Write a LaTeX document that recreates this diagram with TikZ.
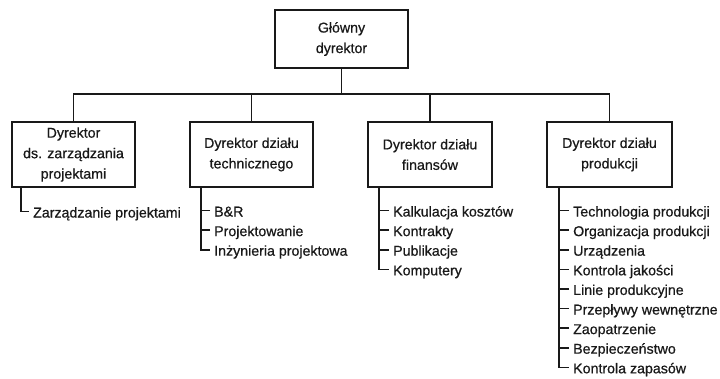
\documentclass[tikz,border=0pt]{standalone}
\usepackage{fontspec}
\setmainfont{Liberation Sans}[FakeBold=0.6]
\begin{document}
\begin{tikzpicture}[x=1pt,y=-1pt,
  box/.style={draw=black!90, line width=1.8pt, fill=white, align=center,
    text=black!90, font=\fontsize{14.2}{20.5}\selectfont, inner sep=0pt},
  item/.style={anchor=west, inner xsep=4pt, inner ysep=0pt, text height=12pt, text depth=0pt,
    text=black!90, font=\fontsize{14.2}{17}\selectfont},
  conn/.style={draw=black!90, line width=1.8pt},
  tick/.style={draw=black!90, line width=1.6pt}]
\useasboundingbox (0,0) rectangle (720,378);
\fill[white] (0,0) rectangle (720,378);

\node[box, minimum width=133pt, minimum height=58pt] (top) at (341.5,39) {Główny\\dyrektor};
\node[box, minimum width=123pt, minimum height=65pt] (b1) at (73.5,154.5) {Dyrektor\\ds. zarządzania\\projektami};
\node[box, minimum width=123pt, minimum height=65pt] (b2) at (251.5,154.5) {Dyrektor działu\\technicznego};
\node[box, minimum width=124pt, minimum height=65pt] (b3) at (430,154.5) {Dyrektor działu\\finansów};
\node[box, minimum width=125pt, minimum height=65pt] (b4) at (609.5,154.5) {Dyrektor działu\\produkcji};

\draw[conn] (top.south) -- ++(0,25) coordinate (j);
\draw[conn] (j) -| (b1.north);
\draw[conn] (j) -| (b2.north);
\draw[conn] (j) -| (b3.north);
\draw[conn] (j) -| (b4.north);

% list 1
\node[item] (a1) at (29,211.5) {Zarządzanie projektami};
\draw[tick] (b1.south -| 21,0) |- (a1.west);

% list 2
\node[item] (c1) at (210,210.5) {B\&R};
\node[item] (c2) at (210,230.1) {Projektowanie};
\node[item] (c3) at (210,249.7) {Inżynieria projektowa};
\draw[tick] (b2.south -| 201,0) |- (c3.west);
\foreach \n in {c1,c2} \draw[tick] (\n.west) -- ++(-9,0);

% list 3
\node[item] (d1) at (389,210.5) {Kalkulacja kosztów};
\node[item] (d2) at (389,230.1) {Kontrakty};
\node[item] (d3) at (389,249.7) {Publikacje};
\node[item] (d4) at (389,269.3) {Komputery};
\draw[tick] (b3.south -| 379,0) |- (d4.west);
\foreach \n in {d1,d2,d3} \draw[tick] (\n.west) -- ++(-10,0);

% list 4
\node[item] (e1) at (569,210.5) {Technologia produkcji};
\node[item] (e2) at (569,230.1) {Organizacja produkcji};
\node[item] (e3) at (569,249.7) {Urządzenia};
\node[item] (e4) at (569,269.3) {Kontrola jakości};
\node[item] (e5) at (569,288.9) {Linie produkcyjne};
\node[item] (e6) at (569,308.5) {Przepływy wewnętrzne};
\node[item] (e7) at (569,328.1) {Zaopatrzenie};
\node[item] (e8) at (569,347.7) {Bezpieczeństwo};
\node[item] (e9) at (569,367.3) {Kontrola zapasów};
\draw[tick] (b4.south -| 559,0) |- (e9.west);
\foreach \n in {e1,e2,e3,e4,e5,e6,e7,e8} \draw[tick] (\n.west) -- ++(-10,0);
\end{tikzpicture}
\end{document}
